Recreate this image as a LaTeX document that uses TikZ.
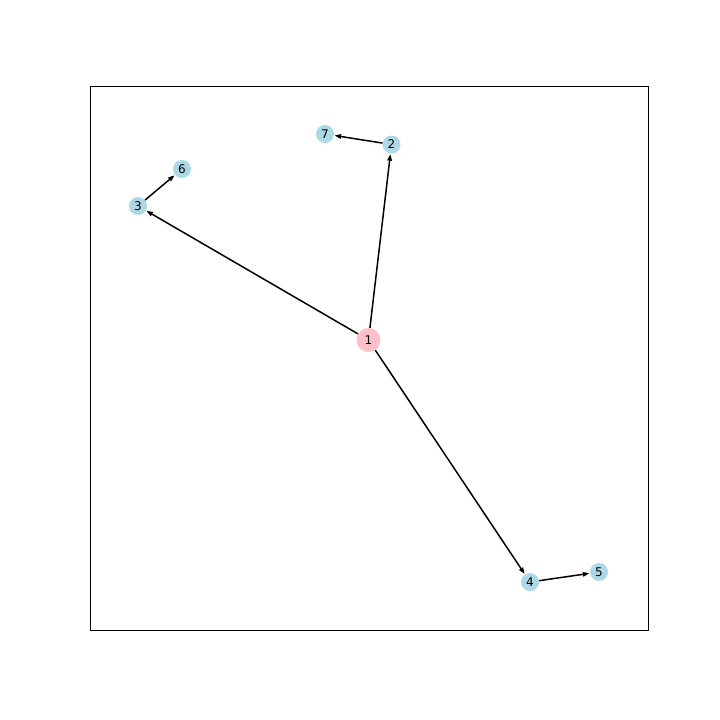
\documentclass[tikz,border=0pt]{standalone}
\usepackage{fontspec}
\setmainfont{DejaVu Sans}
\usetikzlibrary{arrows.meta}
\begin{document}
\begin{tikzpicture}[x=1pt,y=-1pt,
  small/.style={circle,fill=cyan!20!blue!10!lightblue,inner sep=0pt,minimum size=18pt,font=\fontsize{12}{12}\selectfont},
  big/.style={circle,fill=pinkfill,inner sep=0pt,minimum size=24pt,font=\fontsize{12}{12}\selectfont},
  edge/.style={line width=1.5pt,-{Triangle[length=6.5pt,width=4.5pt]},shorten >=0.5pt}]
\definecolor{lightblue}{HTML}{ADD8E6}
\definecolor{pinkfill}{HTML}{FFC0CB}
\tikzset{small/.append style={fill=lightblue}}
\fill[white] (0,0) rectangle (720,720);
\useasboundingbox (0,0) rectangle (720,720);
\draw[line width=0.8pt] (90,86) rectangle (648,630);
\node[big] (n1) at (368.5,340) {1};
\node[small] (n2) at (391.5,144.5) {2};
\node[small] (n7) at (325,134) {7};
\node[small] (n3) at (138,206) {3};
\node[small] (n6) at (182,169) {6};
\node[small] (n4) at (530,582) {4};
\node[small] (n5) at (599,572) {5};
\draw[edge] (n1) -- (n2);
\draw[edge] (n1) -- (n3);
\draw[edge] (n1) -- (n4);
\draw[edge] (n2) -- (n7);
\draw[edge] (n3) -- (n6);
\draw[edge] (n4) -- (n5);
\end{tikzpicture}
\end{document}
